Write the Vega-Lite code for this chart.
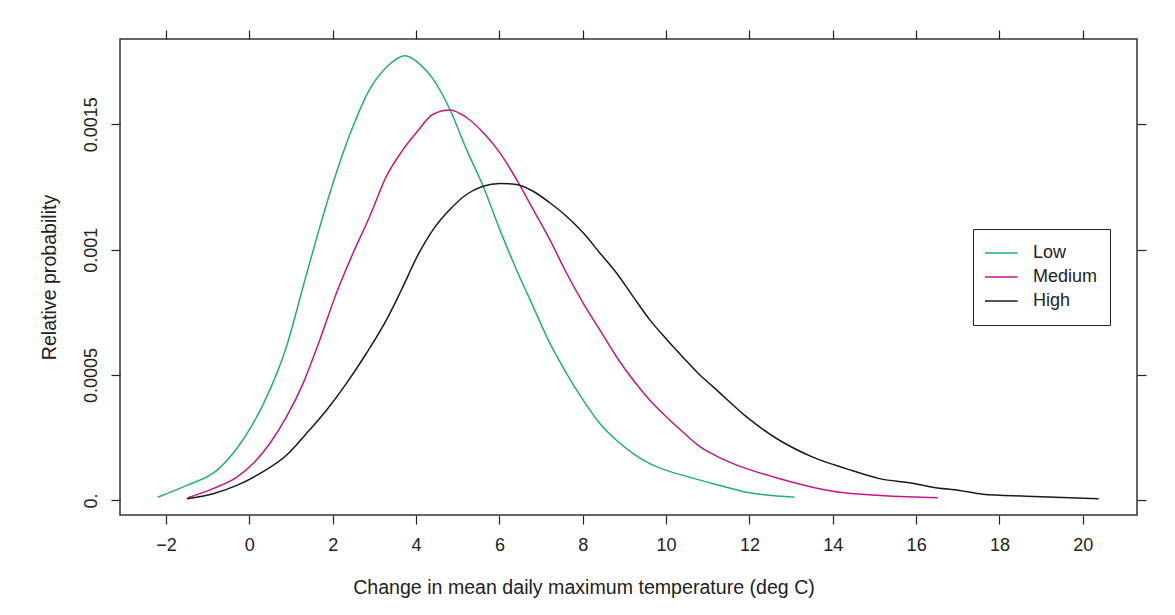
{
  "$schema": "https://vega.github.io/schema/vega-lite/v6.json",
  "width": 1017,
  "height": 476,
  "autosize": {"type": "none"},
  "padding": {"left": 120, "top": 39, "right": 38, "bottom": 100},
  "background": "white",
  "config": {
    "view": {"stroke": "#333333", "strokeWidth": 1.5},
    "font": "Liberation Sans",
    "axis": {
      "domain": false,
      "grid": false,
      "tickColor": "#222222",
      "tickSize": 9,
      "tickWidth": 1.2,
      "labelFont": "Liberation Sans",
      "labelFontSize": 18,
      "labelColor": "#222222",
      "titleFont": "Liberation Sans",
      "titleFontSize": 19.6,
      "titleFontWeight": "normal",
      "titleColor": "#222222"
    }
  },
  "data": {
    "values": [
      {"scenario": "Low", "temp": -2.2, "prob": 0.000013},
      {"scenario": "Low", "temp": -1.5, "prob": 0.00006},
      {"scenario": "Low", "temp": -0.78, "prob": 0.00012},
      {"scenario": "Low", "temp": -0.3, "prob": 0.000207},
      {"scenario": "Low", "temp": 0.09, "prob": 0.000307},
      {"scenario": "Low", "temp": 0.49, "prob": 0.00044},
      {"scenario": "Low", "temp": 0.89, "prob": 0.000613},
      {"scenario": "Low", "temp": 1.29, "prob": 0.000853},
      {"scenario": "Low", "temp": 1.69, "prob": 0.00109},
      {"scenario": "Low", "temp": 2.01, "prob": 0.001267},
      {"scenario": "Low", "temp": 2.49, "prob": 0.001493},
      {"scenario": "Low", "temp": 2.89, "prob": 0.00164},
      {"scenario": "Low", "temp": 3.29, "prob": 0.001727},
      {"scenario": "Low", "temp": 3.73, "prob": 0.001773},
      {"scenario": "Low", "temp": 4.09, "prob": 0.00174},
      {"scenario": "Low", "temp": 4.41, "prob": 0.00168},
      {"scenario": "Low", "temp": 4.81, "prob": 0.00156},
      {"scenario": "Low", "temp": 5.21, "prob": 0.0014},
      {"scenario": "Low", "temp": 5.61, "prob": 0.001253},
      {"scenario": "Low", "temp": 6.01, "prob": 0.00108},
      {"scenario": "Low", "temp": 6.41, "prob": 0.00092},
      {"scenario": "Low", "temp": 6.81, "prob": 0.000773},
      {"scenario": "Low", "temp": 7.21, "prob": 0.000627},
      {"scenario": "Low", "temp": 7.61, "prob": 0.000507},
      {"scenario": "Low", "temp": 8.01, "prob": 0.0004},
      {"scenario": "Low", "temp": 8.41, "prob": 0.000307},
      {"scenario": "Low", "temp": 8.81, "prob": 0.00024},
      {"scenario": "Low", "temp": 9.21, "prob": 0.000187},
      {"scenario": "Low", "temp": 9.61, "prob": 0.000147},
      {"scenario": "Low", "temp": 10.01, "prob": 0.00012},
      {"scenario": "Low", "temp": 10.41, "prob": 0.0001},
      {"scenario": "Low", "temp": 11.13, "prob": 0.000067},
      {"scenario": "Low", "temp": 11.93, "prob": 0.000033},
      {"scenario": "Low", "temp": 13.08, "prob": 0.000013},
      {"scenario": "Medium", "temp": -1.47, "prob": 0.000011},
      {"scenario": "Medium", "temp": -0.87, "prob": 0.000047},
      {"scenario": "Medium", "temp": -0.3, "prob": 0.000093},
      {"scenario": "Medium", "temp": 0.09, "prob": 0.000147},
      {"scenario": "Medium", "temp": 0.49, "prob": 0.000227},
      {"scenario": "Medium", "temp": 0.89, "prob": 0.000333},
      {"scenario": "Medium", "temp": 1.29, "prob": 0.000467},
      {"scenario": "Medium", "temp": 1.69, "prob": 0.00064},
      {"scenario": "Medium", "temp": 2.09, "prob": 0.000827},
      {"scenario": "Medium", "temp": 2.49, "prob": 0.000987},
      {"scenario": "Medium", "temp": 2.89, "prob": 0.001133},
      {"scenario": "Medium", "temp": 3.29, "prob": 0.001293},
      {"scenario": "Medium", "temp": 3.65, "prob": 0.00139},
      {"scenario": "Medium", "temp": 4.01, "prob": 0.001467},
      {"scenario": "Medium", "temp": 4.41, "prob": 0.00154},
      {"scenario": "Medium", "temp": 4.81, "prob": 0.001557},
      {"scenario": "Medium", "temp": 5.21, "prob": 0.001527},
      {"scenario": "Medium", "temp": 5.61, "prob": 0.001467},
      {"scenario": "Medium", "temp": 6.01, "prob": 0.001387},
      {"scenario": "Medium", "temp": 6.41, "prob": 0.00128},
      {"scenario": "Medium", "temp": 6.81, "prob": 0.00116},
      {"scenario": "Medium", "temp": 7.21, "prob": 0.00104},
      {"scenario": "Medium", "temp": 7.61, "prob": 0.000907},
      {"scenario": "Medium", "temp": 8.01, "prob": 0.000787},
      {"scenario": "Medium", "temp": 8.41, "prob": 0.00068},
      {"scenario": "Medium", "temp": 8.81, "prob": 0.000573},
      {"scenario": "Medium", "temp": 9.21, "prob": 0.00048},
      {"scenario": "Medium", "temp": 9.61, "prob": 0.0004},
      {"scenario": "Medium", "temp": 10.01, "prob": 0.000333},
      {"scenario": "Medium", "temp": 10.41, "prob": 0.000272},
      {"scenario": "Medium", "temp": 10.81, "prob": 0.000215},
      {"scenario": "Medium", "temp": 11.2, "prob": 0.000178},
      {"scenario": "Medium", "temp": 11.61, "prob": 0.000147},
      {"scenario": "Medium", "temp": 12.72, "prob": 0.000087},
      {"scenario": "Medium", "temp": 14.16, "prob": 0.000033},
      {"scenario": "Medium", "temp": 16.52, "prob": 0.000011},
      {"scenario": "High", "temp": -1.5, "prob": 0.0000067},
      {"scenario": "High", "temp": -0.87, "prob": 0.000027},
      {"scenario": "High", "temp": -0.3, "prob": 0.00006},
      {"scenario": "High", "temp": 0.25, "prob": 0.000107},
      {"scenario": "High", "temp": 0.89, "prob": 0.00018},
      {"scenario": "High", "temp": 1.37, "prob": 0.000267},
      {"scenario": "High", "temp": 1.85, "prob": 0.00036},
      {"scenario": "High", "temp": 2.33, "prob": 0.000467},
      {"scenario": "High", "temp": 2.81, "prob": 0.000587},
      {"scenario": "High", "temp": 3.29, "prob": 0.00072},
      {"scenario": "High", "temp": 3.65, "prob": 0.00084},
      {"scenario": "High", "temp": 4.05, "prob": 0.00098},
      {"scenario": "High", "temp": 4.41, "prob": 0.00108},
      {"scenario": "High", "temp": 4.81, "prob": 0.00116},
      {"scenario": "High", "temp": 5.21, "prob": 0.00122},
      {"scenario": "High", "temp": 5.61, "prob": 0.001253},
      {"scenario": "High", "temp": 6.01, "prob": 0.001264},
      {"scenario": "High", "temp": 6.41, "prob": 0.00126},
      {"scenario": "High", "temp": 6.81, "prob": 0.001233},
      {"scenario": "High", "temp": 7.21, "prob": 0.001187},
      {"scenario": "High", "temp": 7.61, "prob": 0.001133},
      {"scenario": "High", "temp": 8.01, "prob": 0.001067},
      {"scenario": "High", "temp": 8.41, "prob": 0.000987},
      {"scenario": "High", "temp": 8.81, "prob": 0.000907},
      {"scenario": "High", "temp": 9.21, "prob": 0.000813},
      {"scenario": "High", "temp": 9.61, "prob": 0.00072},
      {"scenario": "High", "temp": 10.01, "prob": 0.000643},
      {"scenario": "High", "temp": 10.41, "prob": 0.00057},
      {"scenario": "High", "temp": 10.81, "prob": 0.0005},
      {"scenario": "High", "temp": 11.13, "prob": 0.000453},
      {"scenario": "High", "temp": 11.93, "prob": 0.000333},
      {"scenario": "High", "temp": 12.72, "prob": 0.00024},
      {"scenario": "High", "temp": 13.52, "prob": 0.000173},
      {"scenario": "High", "temp": 14.32, "prob": 0.000127},
      {"scenario": "High", "temp": 15.12, "prob": 0.000087},
      {"scenario": "High", "temp": 15.95, "prob": 0.000068},
      {"scenario": "High", "temp": 16.4, "prob": 0.000053},
      {"scenario": "High", "temp": 17.04, "prob": 0.00004},
      {"scenario": "High", "temp": 17.6, "prob": 0.000025},
      {"scenario": "High", "temp": 18.64, "prob": 0.000017},
      {"scenario": "High", "temp": 20.38, "prob": 0.0000067}
    ]
  },
  "layer": [
    {
      "mark": {"type": "line", "strokeWidth": 1.5, "interpolate": "monotone"},
      "encoding": {
        "x": {
          "field": "temp",
          "type": "quantitative",
          "scale": {"domain": [-3.104, 21.3], "nice": false, "zero": false},
          "axis": {
            "orient": "bottom",
            "values": [-2, 0, 2, 4, 6, 8, 10, 12, 14, 16, 18, 20],
            "labelPadding": 12,
            "title": "Change in mean daily maximum temperature (deg C)",
            "titleX": 463.5,
            "titleY": 78,
            "titleBaseline": "alphabetic"
          }
        },
        "y": {
          "field": "prob",
          "type": "quantitative",
          "scale": {"domain": [-0.000058, 0.00184], "nice": false, "zero": false},
          "axis": {
            "orient": "left",
            "values": [0, 0.0005, 0.001, 0.0015],
            "labelExpr": "datum.value == 0 ? '0.' : format(datum.value, '~g')",
            "labelAngle": -90,
            "labelAlign": "center",
            "labelBaseline": "alphabetic",
            "labelPadding": 15,
            "title": "Relative probability",
            "titleX": -65,
            "titleBaseline": "alphabetic"
          }
        },
        "color": {
          "field": "scenario",
          "type": "nominal",
          "scale": {"domain": ["Low", "Medium", "High"], "range": ["#20b26b", "#c5168c", "#1a1a1a"]},
          "legend": {
            "orient": "none",
            "legendX": 853,
            "legendY": 190,
            "title": null,
            "strokeColor": "#222222",
            "padding": 12,
            "symbolType": "M-3.1,0H3.1",
            "symbolSize": 342,
            "symbolStrokeWidth": 1.5,
            "symbolOffset": -6,
            "labelOffset": 34,
            "labelFont": "Liberation Sans",
            "labelFontSize": 18,
            "labelColor": "#222222",
            "clipHeight": 24,
            "rowPadding": 0
          }
        }
      }
    },
    {
      "mark": {"type": "line", "strokeOpacity": 0},
      "encoding": {
        "x": {
          "field": "temp",
          "type": "quantitative",
          "axis": {"orient": "top", "labels": false, "title": null, "values": [-2, 0, 2, 4, 6, 8, 10, 12, 14, 16, 18, 20]}
        },
        "y": {
          "field": "prob",
          "type": "quantitative",
          "axis": {"orient": "right", "labels": false, "title": null, "values": [0, 0.0005, 0.001, 0.0015]}
        },
        "detail": {"field": "scenario"}
      }
    }
  ],
  "resolve": {"axis": {"x": "independent", "y": "independent"}}
}
